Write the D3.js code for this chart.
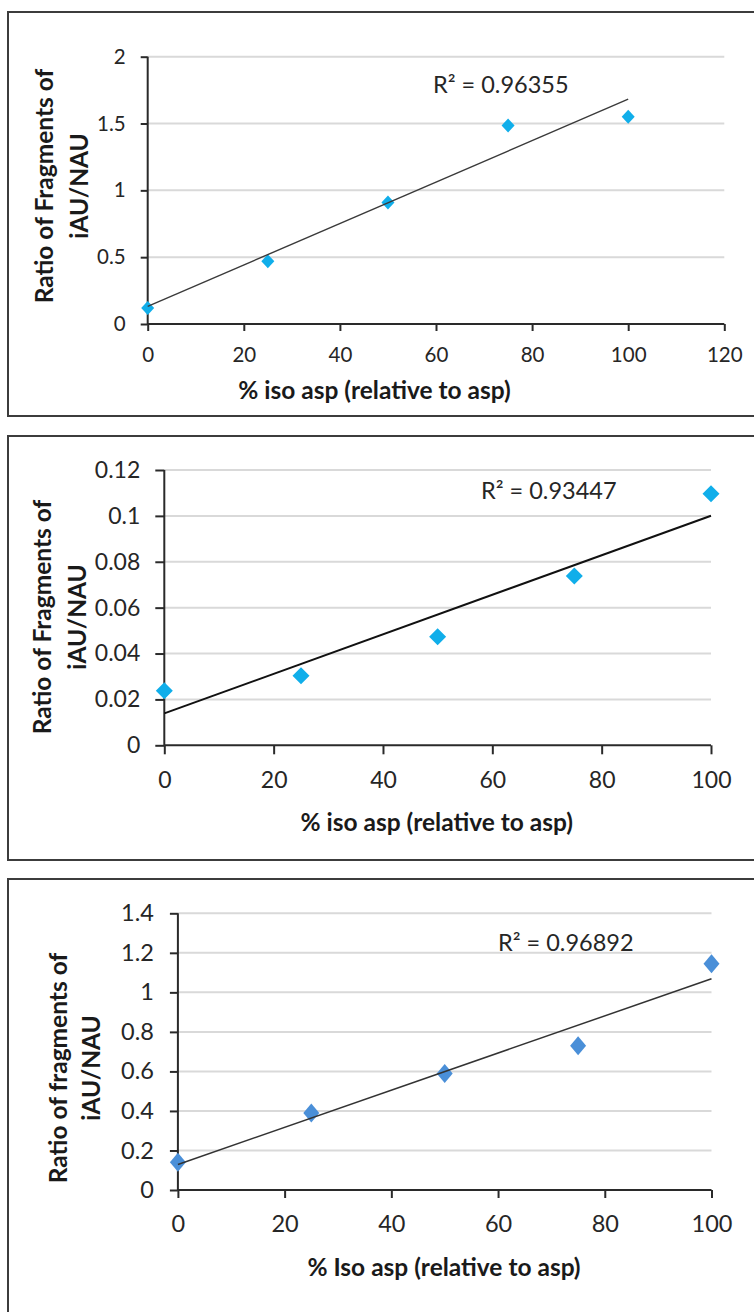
<!DOCTYPE html>
<html>
<head>
<meta charset="utf-8">
<script src="https://cdn.jsdelivr.net/npm/d3@7/dist/d3.min.js"></script>
<style>
  html, body { margin: 0; padding: 0; background: #fff; }
  svg { display: block; }
  text { font-family: Lato, "Open Sans", sans-serif; }
</style>
</head>
<body>
<svg id="chart" width="754" height="1312"></svg>
<script>
// Percentage of iso-asp in the sample (x values shared by all three panels)
const isoPct = [0, 25, 50, 75, 100];

// Measured fragment ratios iAU/NAU for each panel
const ratioA = [0.12, 0.47, 0.91, 1.485, 1.55];
const ratioB = [0.0238, 0.0303, 0.0473, 0.0738, 0.1097];
const ratioC = [0.14, 0.39, 0.59, 0.73, 1.145];

// Axis ticks
const xTicksA = [0, 20, 40, 60, 80, 100, 120];
const yTicksA = [0, 0.5, 1, 1.5, 2];
const xTicksB = [0, 20, 40, 60, 80, 100];
const yTicksB = [0, 0.02, 0.04, 0.06, 0.08, 0.1, 0.12];
const xTicksC = [0, 20, 40, 60, 80, 100];
const yTicksC = [0, 0.2, 0.4, 0.6, 0.8, 1, 1.2, 1.4];

// Text
const r2Labels = ["R² = 0.96355", "R² = 0.93447", "R² = 0.96892"];
const xTitles = ["% iso asp (relative to asp)", "% iso asp (relative to asp)", "% Iso asp (relative to asp)"];
const yTitles = [
  ["Ratio of Fragments of", "iAU/NAU"],
  ["Ratio of Fragments of", "iAU/NAU"],
  ["Ratio of fragments of", "iAU/NAU"]
];

const svg = d3.select("#chart");

// Ordinary least squares fit, used for the linear trendline
function linearFit(xs, ys) {
  const mx = d3.mean(xs), my = d3.mean(ys);
  let sxy = 0, sxx = 0;
  xs.forEach((x, i) => { sxy += (x - mx) * (ys[i] - my); sxx += (x - mx) * (x - mx); });
  const slope = sxy / sxx;
  return { slope, intercept: my - slope * mx };
}

function diamond(w, h) {
  return `M0,${-h}L${w},0L0,${h}L${-w},0Z`;
}

function drawPanel(p) {
  // outer frame
  svg.append("rect")
    .attr("x", p.frame[0]).attr("y", p.frame[1])
    .attr("width", p.frame[2]).attr("height", p.frame[3])
    .attr("fill", "none").attr("stroke", "#3c3c3c").attr("stroke-width", 2);

  const x = d3.scaleLinear().domain(p.xDomain).range(p.xRange);
  const y = d3.scaleLinear().domain(p.yDomain).range(p.yRange);
  const g = svg.append("g");

  // horizontal gridlines
  g.selectAll(".grid").data(p.yTicks.slice(1)).join("line")
    .attr("x1", p.xRange[0]).attr("x2", p.xRange[1])
    .attr("y1", d => y(d)).attr("y2", d => y(d))
    .attr("stroke", "#d9d9d9").attr("stroke-width", 2);

  // y axis
  const yAxis = g.append("g")
    .attr("transform", `translate(${p.xRange[0]},0)`)
    .call(d3.axisLeft(y).tickValues(p.yTicks).tickSize(p.tick).tickPadding(p.yPad)
      .tickFormat(d => String(+d.toFixed(4))));
  // x axis
  const xAxis = g.append("g")
    .attr("transform", `translate(0,${p.yRange[0]})`)
    .call(d3.axisBottom(x).tickValues(p.xTicks).tickSize(p.tick).tickPadding(p.xPad)
      .tickFormat(d3.format("d")));

  [yAxis, xAxis].forEach(ax => {
    ax.select(".domain").remove();
    ax.selectAll(".tick line").attr("stroke", "#2a2a2a").attr("stroke-width", 2);
    ax.selectAll(".tick text").attr("fill", "#262626")
      .style("font-size", p.tickFont + "px").style("font-family", "Lato, sans-serif");
  });
  // axis lines
  g.append("line").attr("x1", p.xRange[0]).attr("x2", p.xRange[0])
    .attr("y1", p.yRange[0]).attr("y2", p.yRange[1])
    .attr("stroke", "#2a2a2a").attr("stroke-width", 2);
  g.append("line").attr("x1", p.xRange[0]).attr("x2", x(p.xTicks[p.xTicks.length - 1]))
    .attr("y1", p.yRange[0]).attr("y2", p.yRange[0])
    .attr("stroke", "#2a2a2a").attr("stroke-width", 2);

  // data markers
  const pts = p.xs.map((v, i) => [v, p.ys[i]]);
  g.selectAll(".pt").data(pts).join("path")
    .attr("transform", d => `translate(${x(d[0])},${y(d[1])})`)
    .attr("d", diamond(p.marker[0], p.marker[1]))
    .attr("fill", p.color);

  // linear trendline over the data range
  const fit = linearFit(p.xs, p.ys);
  const x0 = d3.min(p.xs), x1 = d3.max(p.xs);
  g.append("line")
    .attr("x1", x(x0)).attr("y1", y(fit.intercept + fit.slope * x0))
    .attr("x2", x(x1)).attr("y2", y(fit.intercept + fit.slope * x1))
    .attr("stroke", p.lineColor).attr("stroke-width", p.lineWidth);

  // R squared label
  g.append("text").attr("x", p.r2Pos[0]).attr("y", p.r2Pos[1])
    .attr("fill", "#262626").style("font-size", p.r2Font + "px")
    .text(p.r2);

  // axis titles
  g.append("text").attr("x", p.xTitlePos[0]).attr("y", p.xTitlePos[1])
    .attr("text-anchor", "middle").attr("dominant-baseline", "central")
    .attr("fill", "#1a1a1a").style("font-weight", "bold").style("font-size", p.titleFont + "px")
    .text(p.xTitle);

  p.yTitle.forEach((line, i) => {
    g.append("text")
      .attr("transform", `translate(${p.yTitleX[i]},${p.yTitleY}) rotate(-90)`)
      .attr("text-anchor", "middle").attr("dominant-baseline", "central")
      .attr("fill", "#1a1a1a").style("font-weight", "bold").style("font-size", p.titleFont + "px")
      .text(line);
  });
}

drawPanel({
  frame: [8, 12, 760, 404],
  xDomain: [0, 120], xRange: [147.7, 724.3],
  yDomain: [0, 2], yRange: [324, 56.7],
  xTicks: xTicksA, yTicks: yTicksA,
  xs: isoPct, ys: ratioA,
  tick: 7, yPad: 15, xPad: 16, tickFont: 20.5,
  marker: [6.5, 7], color: "#10aeea",
  lineColor: "#3a3a3a", lineWidth: 1.4,
  r2: r2Labels[0], r2Pos: [433, 93], r2Font: 23.5,
  xTitle: xTitles[0], xTitlePos: [374.5, 389],
  yTitle: yTitles[0], yTitleX: [43, 78], yTitleY: 186,
  titleFont: 24.5
});

drawPanel({
  frame: [8, 436, 760, 424],
  xDomain: [0, 100], xRange: [164.3, 711],
  yDomain: [0, 0.12], yRange: [745.3, 470],
  xTicks: xTicksB, yTicks: yTicksB,
  xs: isoPct, ys: ratioB,
  tick: 9, yPad: 15, xPad: 17, tickFont: 23,
  marker: [8.5, 8.5], color: "#10aeea",
  lineColor: "#111", lineWidth: 2,
  r2: r2Labels[1], r2Pos: [481, 499], r2Font: 23.5,
  xTitle: xTitles[1], xTitlePos: [436.7, 821.7],
  yTitle: yTitles[1], yTitleX: [41, 76], yTitleY: 617,
  titleFont: 24.5
});

drawPanel({
  frame: [8, 879, 760, 460],
  xDomain: [0, 100], xRange: [177.9, 711.5],
  yDomain: [0, 1.4], yRange: [1190, 913.3],
  xTicks: xTicksC, yTicks: yTicksC,
  xs: isoPct, ys: ratioC,
  tick: 8, yPad: 16, xPad: 17, tickFont: 23.5,
  marker: [8, 9.5], color: "#4a8fd8",
  lineColor: "#333", lineWidth: 1.5,
  r2: r2Labels[2], r2Pos: [498, 951], r2Font: 23.5,
  xTitle: xTitles[2], xTitlePos: [444, 1266.7],
  yTitle: yTitles[2], yTitleX: [57, 90], yTitleY: 1068,
  titleFont: 24.5
});
</script>
</body>
</html>
